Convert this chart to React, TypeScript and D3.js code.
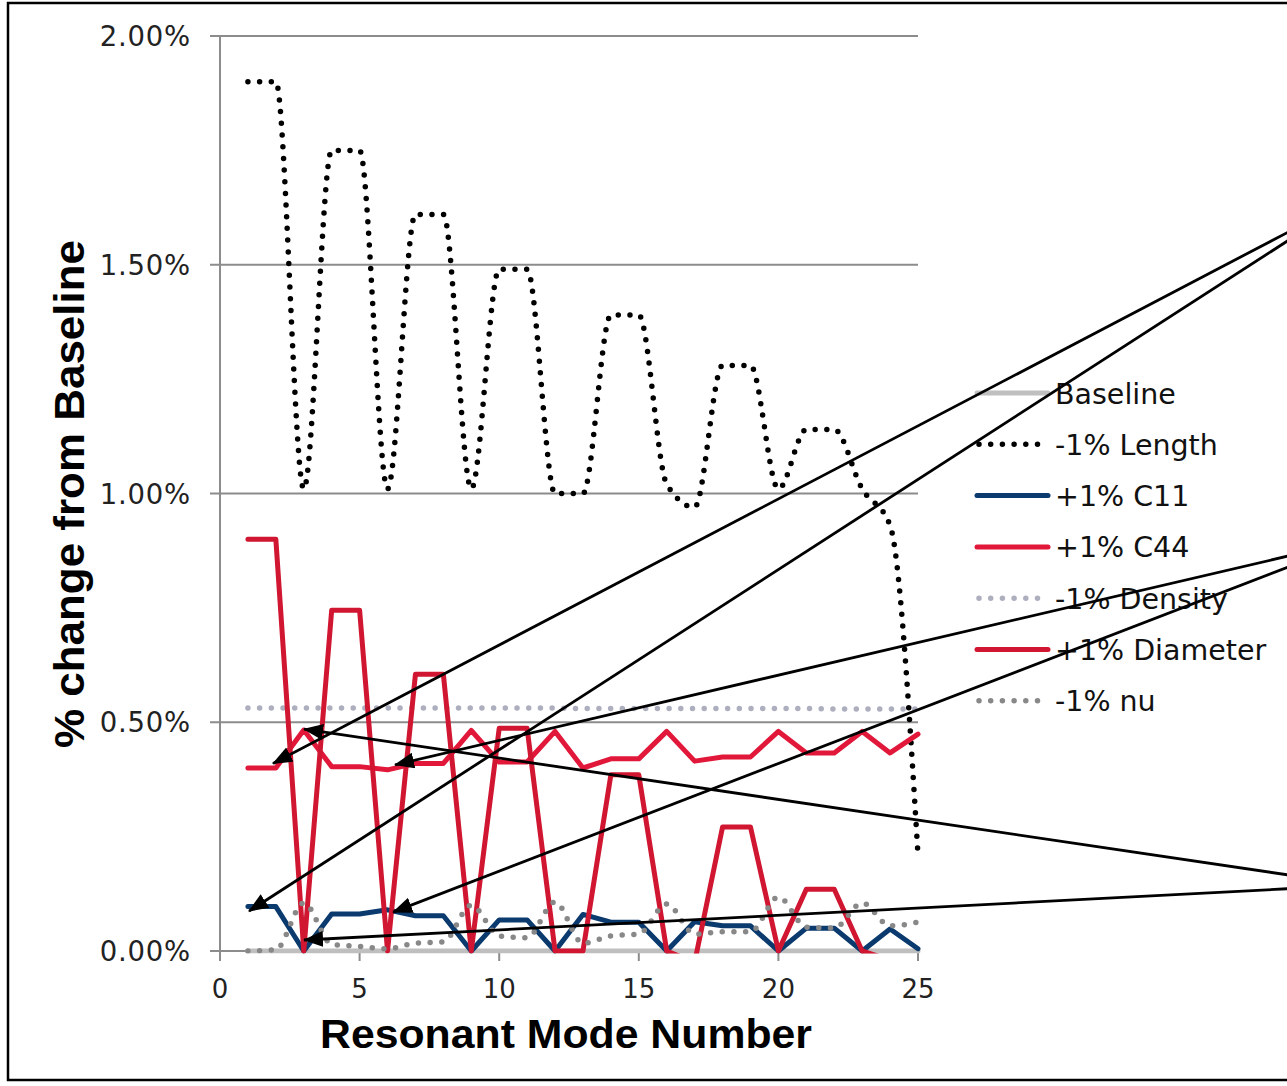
import React from "react";
import * as d3 from "d3";

const modes = [1,2,3,4,5,6,7,8,9,10,11,12,13,14,15,16,17,18,19,20,21,22,23,24,25];
const baseline = [0,0,0,0,0,0,0,0,0,0,0,0,0,0,0,0,0,0,0,0,0,0,0,0,0];
const length1 = [1.90,1.90,1.01,1.75,1.75,1.01,1.61,1.61,1.01,1.49,1.49,1.00,1.00,1.39,1.39,1.02,0.97,1.28,1.28,1.01,1.14,1.14,1.01,0.93,0.21];
const c11 = [0.097,0.097,0,0.081,0.081,0.09,0.077,0.077,0,0.068,0.068,0,0.08,0.063,0.063,0,0.064,0.055,0.055,0,0.05,0.05,0,0.048,0.005];
const c44 = [0.40,0.40,0.483,0.403,0.403,0.396,0.41,0.41,0.482,0.413,0.413,0.48,0.40,0.42,0.42,0.48,0.415,0.424,0.424,0.48,0.433,0.433,0.48,0.433,0.474];
const density = [0.531,0.531,0.531,0.531,0.531,0.531,0.531,0.531,0.531,0.531,0.531,0.531,0.53,0.53,0.53,0.53,0.53,0.53,0.53,0.53,0.53,0.529,0.529,0.529,0.529];
const diameter = [0.90,0.90,0,0.745,0.745,0,0.605,0.605,0,0.487,0.487,0,0,0.385,0.385,0,-0.025,0.271,0.271,0,0.135,0.135,0,-0.02,-0.02];
const nu = [0.0,0.003,0.105,0.015,0.01,0.005,0.017,0.02,0.10,0.033,0.029,0.107,0.017,0.033,0.037,0.103,0.037,0.042,0.042,0.118,0.052,0.05,0.105,0.055,0.063];

const yTicks = [0, 0.5, 1.0, 1.5, 2.0];
const xTicks = [0, 5, 10, 15, 20, 25];

// annotation arrows (data units): tip and source
const arrowTipMode = [1.9, 1.04, 6.27, 3.01, 6.2, 3.01];
const arrowTipValue = [0.41, 0.087, 0.407, 0.485, 0.085, 0.024];
const arrowSrcMode = [40.72, 40.72, 40.83, 40.72, 40.83, 40.72];
const arrowSrcValue = [1.65, 1.65, 0.90, 0.144, 0.90, 0.144];

const seriesNames = ["Baseline", "-1% Length", "+1% C11", "+1% C44", "-1% Density", "+1% Diameter", "-1% nu"];

export default function App() {
  const x = d3.scaleLinear().domain([0, 25]).range([220, 918]);
  const y = d3.scaleLinear().domain([0, 2]).range([951, 36]);

  const straight = d3.line<number>().x((_, i) => x(modes[i])).y((d) => y(d));
  const smooth = d3
    .line<number>()
    .x((_, i) => x(modes[i]))
    .y((d) => y(d))
    .curve(d3.curveMonotoneX);

  const series = [
    { name: seriesNames[0], data: baseline, gen: straight, color: "#bfbfbf", width: 5, dash: null },
    { name: seriesNames[1], data: length1, gen: smooth, color: "#000000", width: 5.5, dash: "0 11.7" },
    { name: seriesNames[2], data: c11, gen: straight, color: "#0a3a6e", width: 5, dash: null },
    { name: seriesNames[3], data: c44, gen: straight, color: "#e2183a", width: 5, dash: null },
    { name: seriesNames[4], data: density, gen: smooth, color: "#adafbf", width: 5.5, dash: "0 11.7" },
    { name: seriesNames[5], data: diameter, gen: straight, color: "#d11631", width: 5, dash: null },
    { name: seriesNames[6], data: nu, gen: smooth, color: "#888888", width: 5.5, dash: "0 11.7" },
  ];

  const legendX0 = 977;
  const legendX1 = 1048;
  const legendY0 = 393;
  const legendStep = 51.3;

  return (
    <svg
      width={1287}
      height={1086}
      style={{ position: "absolute", left: 0, top: 0, background: "#fff" }}
    >
      <defs>
        <clipPath id="plotClip">
          <rect x={0} y={20} width={1287} height={933.5} />
        </clipPath>
        <marker
          id="arrowHead"
          markerUnits="userSpaceOnUse"
          markerWidth={20}
          markerHeight={16}
          refX={19}
          refY={8}
          orient="auto"
        >
          <path d="M0,0 L20,8 L0,16 Z" fill="#000" />
        </marker>
      </defs>
      <rect x={0} y={0} width={1287} height={1086} fill="#fff" />
      <rect x={8} y={3} width={1400} height={1077} fill="none" stroke="#000" strokeWidth={2.5} />

      {/* gridlines */}
      {yTicks.map((t) => (
        <line key={"g" + t} x1={210} x2={918} y1={y(t)} y2={y(t)} stroke="#8c8c8c" strokeWidth={2} />
      ))}
      {/* y axis */}
      <line x1={220} x2={220} y1={36} y2={960} stroke="#8c8c8c" strokeWidth={2} />
      {/* x ticks */}
      {xTicks.map((t) => (
        <line key={"xt" + t} x1={x(t)} x2={x(t)} y1={951} y2={961} stroke="#8c8c8c" strokeWidth={2} />
      ))}
      {/* tick labels */}
      {yTicks.map((t) => (
        <text
          key={"yl" + t}
          x={191}
          y={y(t) + 10}
          textAnchor="end"
          fontFamily="DejaVu Sans"
          fontSize={27.5}
          letterSpacing={0.8}
          fill="#222"
        >
          {t.toFixed(2) + "%"}
        </text>
      ))}
      {xTicks.map((t) => (
        <text
          key={"xl" + t}
          x={x(t)}
          y={998}
          textAnchor="middle"
          fontFamily="DejaVu Sans"
          fontSize={26}
          fill="#222"
        >
          {t}
        </text>
      ))}

      {/* series */}
      <g clipPath="url(#plotClip)">
        {series.map((s) => (
          <path
            key={s.name}
            d={s.gen(s.data) || ""}
            fill="none"
            stroke={s.color}
            strokeWidth={s.width}
            strokeLinecap="round"
            strokeLinejoin="round"
            strokeDasharray={s.dash || undefined}
          />
        ))}
      </g>

      {/* legend */}
      {series.map((s, i) => {
        const ly = legendY0 + i * legendStep;
        return (
          <g key={"lg" + s.name}>
            <line
              x1={s.dash ? legendX0 + 2 : legendX0}
              x2={s.dash ? legendX1 - 8 : legendX1}
              y1={ly}
              y2={ly}
              stroke={s.color}
              strokeWidth={s.width}
              strokeLinecap="round"
              strokeDasharray={s.dash || undefined}
            />
            <text x={1055} y={ly + 10.5} fontFamily="DejaVu Sans" fontSize={28.5} fill="#111">
              {s.name}
            </text>
          </g>
        );
      })}

      {/* arrows */}
      {arrowTipMode.map((m, i) => (
        <line
          key={"ar" + i}
          x1={x(arrowSrcMode[i])}
          y1={y(arrowSrcValue[i])}
          x2={x(m)}
          y2={y(arrowTipValue[i])}
          stroke="#000"
          strokeWidth={2.8}
          markerEnd="url(#arrowHead)"
        />
      ))}

      {/* axis titles */}
      <text
        x={566}
        y={1048}
        textAnchor="middle"
        fontFamily="Liberation Sans, Arial, sans-serif"
        fontWeight="bold"
        fontSize={40}
        textLength={492}
        lengthAdjust="spacingAndGlyphs"
        fill="#000"
      >
        Resonant Mode Number
      </text>
      <text
        transform="translate(84,494) rotate(-90)"
        textAnchor="middle"
        fontFamily="Liberation Sans, Arial, sans-serif"
        fontWeight="bold"
        fontSize={42}
        textLength={508}
        lengthAdjust="spacingAndGlyphs"
        fill="#000"
      >
        % change from Baseline
      </text>
    </svg>
  );
}
